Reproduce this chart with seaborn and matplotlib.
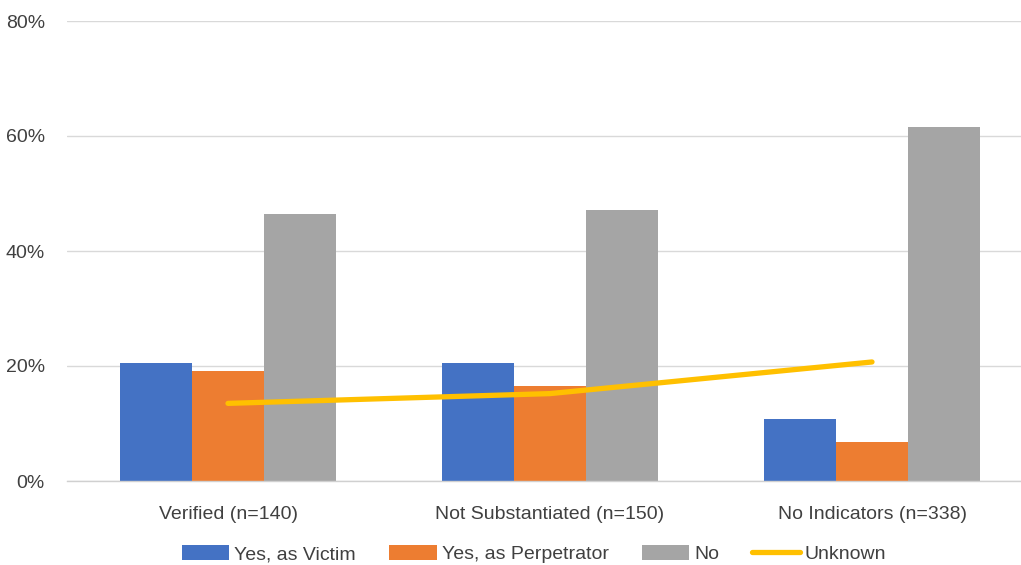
import numpy as np
import pandas as pd
import matplotlib.pyplot as plt
import seaborn as sns
from matplotlib.lines import Line2D
from matplotlib.patches import Patch

# data (percent)
categories = ['Verified (n=140)', 'Not Substantiated (n=150)', 'No Indicators (n=338)']
victim = [20.5, 20.5, 10.8]
perpetrator = [19.2, 16.6, 6.8]
no = [46.4, 47.2, 61.5]
unknown = [13.5, 15.2, 20.7]

series_names = ['Yes, as Victim', 'Yes, as Perpetrator', 'No']
colors = ['#4472C4', '#ED7D31', '#A5A5A5']

df = pd.DataFrame({
    'Category': categories * 3,
    'Series': np.repeat(series_names, len(categories)),
    'Value': victim + perpetrator + no,
})

sns.set_theme(style='white')
plt.rcParams['font.family'] = ['Liberation Sans', 'DejaVu Sans']

fig = plt.figure(figsize=(10.21, 5.65), dpi=100)
ax = fig.add_axes([67 / 1021, 1 - 481 / 565, (1021 - 67) / 1021, 460 / 565])

sns.barplot(
    data=df, x='Category', y='Value', hue='Series',
    order=categories, hue_order=series_names,
    palette=colors, width=0.67, ax=ax, legend=False,
    saturation=1, edgecolor='none', zorder=2
)

ax.plot(np.arange(len(categories)), unknown, color='#FFC000',
        linewidth=3.8, solid_capstyle='round', zorder=3)

ax.set_ylim(0, 80)
ax.set_xlim(-0.5, 2.5 - 12 / 322)
ax.set_yticks([0, 20, 40, 60, 80])
ax.set_yticklabels([f'{v}%' for v in [0, 20, 40, 60, 80]])
ax.yaxis.grid(True, color='#D9D9D9', linewidth=1, zorder=0)
ax.set_axisbelow(True)
for s in ['top', 'right', 'left']:
    ax.spines[s].set_visible(False)
ax.spines['bottom'].set_color('#D0D0D0')
ax.spines['bottom'].set_linewidth(1)
ax.tick_params(axis='both', length=0, labelsize=14, colors='#404040')
ax.tick_params(axis='x', pad=18)
ax.tick_params(axis='y', pad=16)
ax.set_xlabel('')
ax.set_ylabel('')

handles = [Patch(facecolor=c, edgecolor='none') for c in colors]
handles.append(Line2D([0], [0], color='#FFC000', linewidth=3.8))
fig.legend(handles, series_names + ['Unknown'], loc='center',
           bbox_to_anchor=(534 / 1021, 1 - 554 / 565), ncol=4, frameon=False,
           fontsize=14, handlelength=2.45, handleheight=0.8, handletextpad=0.25,
           columnspacing=1.7, labelcolor='#404040')

fig.savefig('out.png', dpi=100)
